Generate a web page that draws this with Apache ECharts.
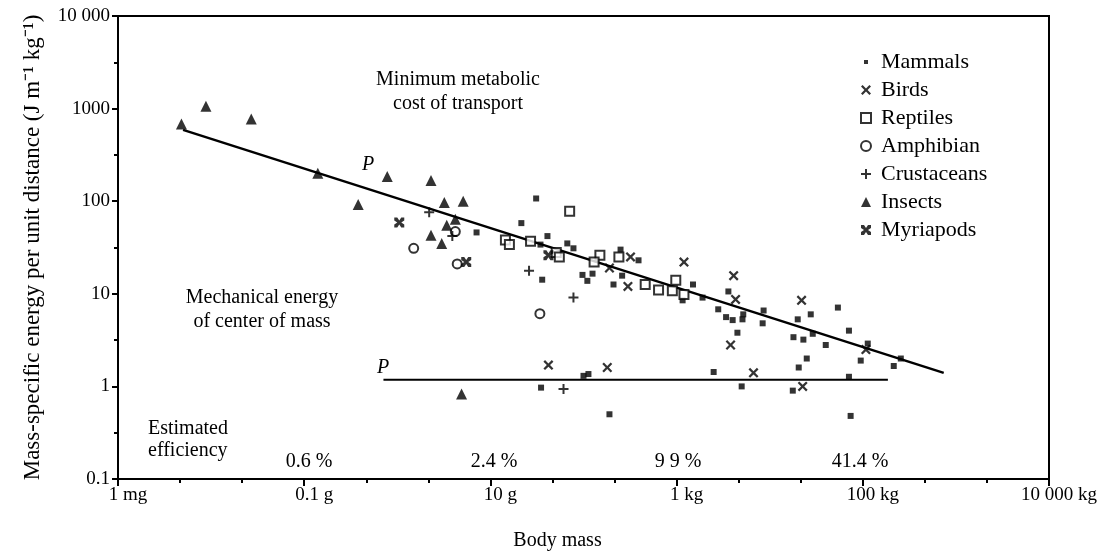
<!DOCTYPE html>
<html>
<head>
<meta charset="utf-8">
<script src="https://cdn.jsdelivr.net/npm/echarts@6/dist/echarts.min.js"></script>
<style>
html, body { margin: 0; padding: 0; background: #fff; }
#chart { width: 1108px; height: 556px; }
</style>
</head>
<body>
<div id="chart"></div>
<script>
// body mass in kg, energy in J m-1 kg-1
var mammals = [[0.0071,46],[0.0215,58],[0.031,107],[0.041,42],[0.0345,34],[0.036,14.2],[0.067,35],[0.078,31],
    [0.0975,16],[0.11,13.8],[0.125,16.5],[0.21,12.6],[0.25,30],[0.39,23],[0.26,15.7],[1.5,12.6],[1.16,8.5],
    [1.9,9.1],[3.6,10.6],[2.8,6.8],[3.4,5.6],[4.0,5.2],[5.1,5.3],[4.5,3.8],[8.6,6.6],[8.4,4.8],[18,3.4],
    [23,3.2],[27.6,6.0],[20,5.3],[54,7.1],[71,4.0],[40,2.8],[25,2.0],[20.5,1.6],[95,1.9],[113,2.9],
    [215,1.66],[256,2.0],[71,1.27],[17.7,0.9],[74,0.48],[2.5,1.43],[5.0,1.0],[0.19,0.5],[0.113,1.36],
    [0.035,0.97],[0.1,1.3],[29,3.7],[5.2,6.0]];
var birds = [[0.042,1.7],[0.18,1.6],[0.19,19],[0.32,25],[0.30,12],[1.2,22],[4.1,15.7],[4.3,8.7],
    [3.8,2.8],[6.7,1.4],[22,8.5],[22.6,1.0],[108,2.5]];
var reptiles = [[0.071,78],[0.0145,38],[0.016,34],[0.027,37],[0.051,28],[0.055,25],[0.15,26],[0.13,22],
    [0.24,25],[0.46,12.6],[0.64,11],[0.98,14],[0.9,10.8],[1.2,9.8]];
var amphibians = [[0.0015,31],[0.0042,47],[0.0044,21],[0.034,6.1]];
var crustaceans = [[0.0022,76],[0.0039,42],[0.026,17.7],[0.078,9.1],[0.061,0.94]];
var insects = [[4.8e-6,680],[8.8e-6,1060],[2.7e-5,770],[1.4e-4,200],[3.8e-4,92],[7.8e-4,185],[0.0023,167],
    [0.0032,97],[0.0051,100],[0.0042,64],[0.0034,55],[0.0023,43],[0.0030,35],[0.0049,0.83]];
var myriapods = [[0.00105,59],[0.0055,22],[0.042,26]];

// the two lines marked P
var metabolicLine = [[5.0e-6,590],[740,1.4]];
var mechanicalLine = [[7.1e-4,1.18],[186,1.18]];

var xTickPowers = [-6,-4,-2,0,2,4];
var xTickLabels = ['1 mg','0.1 g','10 g','1 kg','100 kg','10 000 kg'];
var yTickPowers = [-1,0,1,2,3,4];
var yTickLabels = ['0.1','1','10','100','1000','10 000'];

var efficiencyLabels = ['0.6 %','2.4 %','9 9 %','41.4 %'];

var serif = '"Liberation Serif", "Times New Roman", serif';

var crossPath = 'path://M0,1.6L1.6,0L5,3.4L8.4,0L10,1.6L6.6,5L10,8.4L8.4,10L5,6.6L1.6,10L0,8.4L3.4,5Z';
var plusPath = 'path://M4,0L6,0L6,4L10,4L10,6L6,6L6,10L4,10L4,6L0,6L0,4L4,4Z';
var myriaPath = 'path://M0,0L3,0L5,3L7,0L10,0L10,3L7,5L10,7L10,10L7,10L5,7L3,10L0,10L0,7L3,5L0,3Z';
var dotIcon = 'path://M0,0M10,10M3,3L7,3L7,7L3,7Z';

function labelFor(powers, labels) {
    return function (v) {
        var i = powers.indexOf(Math.round(Math.log10(v)));
        return i < 0 ? '' : labels[i];
    };
}

function pts(name, data, symbol, size, style) {
    return {
        name: name, type: 'scatter', data: data, symbol: symbol, symbolSize: size,
        itemStyle: style || {color: '#000'}, z: 3
    };
}

// hidden axes that only draw the small ticks (minorTick is off on log axes)
function minorAxis(isX, interval) {
    var a = {
        type: 'log', logBase: 10, interval: interval,
        axisLine: {show: false}, axisLabel: {show: false}, splitLine: {show: false},
        axisTick: {length: 4, lineStyle: {color: '#000', width: 2}}
    };
    if (isX) { a.min = 1e-6; a.max = 1e4; a.position = 'bottom'; }
    else { a.min = 0.1; a.max = 10000; a.position = 'left'; }
    return a;
}

var myChart = echarts.init(document.getElementById('chart'));

var effX = [309, 494, 678, 860];

option = {
    animation: false,
    backgroundColor: '#fff',
    grid: {left: 118, right: 59, top: 16, bottom: 73, show: true, borderColor: '#000', borderWidth: 2},
    xAxis: [{
        type: 'log', logBase: 10, min: 1e-6, max: 1e4, interval: 2,
        name: 'Body mass', nameLocation: 'middle', nameGap: 52,
        nameTextStyle: {fontFamily: serif, fontSize: 20, color: '#000', padding: [0, 52, 0, 0]},
        axisLine: {lineStyle: {color: '#000', width: 2}},
        axisTick: {length: 7, lineStyle: {color: '#000', width: 2}},
        splitLine: {show: false},
        axisLabel: {fontFamily: serif, fontSize: 19, color: '#000', margin: 7, padding: [0, 0, 0, 20],
            formatter: labelFor(xTickPowers, xTickLabels)}
    }, minorAxis(true, 2 / 3)],
    yAxis: [{
        type: 'log', logBase: 10, min: 0.1, max: 10000, interval: 1,
        name: 'Mass-specific energy per unit distance (J m\u207B\u00B9 kg\u207B\u00B9)',
        nameLocation: 'middle', nameGap: 74,
        nameTextStyle: {fontFamily: serif, fontSize: 23, color: '#000'},
        axisLine: {lineStyle: {color: '#000', width: 2}},
        axisTick: {length: 6, lineStyle: {color: '#000', width: 2}},
        splitLine: {show: false},
        axisLabel: {fontFamily: serif, fontSize: 19, color: '#000', margin: 8,
            formatter: labelFor(yTickPowers, yTickLabels)}
    }, minorAxis(false, 0.5)],
    legend: {
        orient: 'vertical', left: 855, top: 46,
        itemWidth: 10, itemHeight: 10, itemGap: 6,
        textStyle: {fontFamily: serif, fontSize: 22, lineHeight: 21, color: '#000', padding: [0, 0, 0, 5]},
        selectedMode: false,
        data: [
            {name: 'Mammals', icon: dotIcon},
            'Birds', 'Reptiles', 'Amphibian', 'Crustaceans', 'Insects', 'Myriapods'
        ]
    },
    series: [
        {type: 'line', data: metabolicLine, symbol: 'none', silent: true, z: 2,
            lineStyle: {color: '#000', width: 2.5}},
        {type: 'line', data: mechanicalLine, symbol: 'none', silent: true, z: 2,
            lineStyle: {color: '#000', width: 1.8}},
        pts('Mammals', mammals, 'rect', 6),
        pts('Birds', birds, crossPath, 10),
        pts('Reptiles', reptiles, 'rect', 9, {color: '#fff', borderColor: '#000', borderWidth: 2}),
        pts('Amphibian', amphibians, 'circle', 9, {color: '#fff', borderColor: '#000', borderWidth: 2}),
        pts('Crustaceans', crustaceans, plusPath, 10),
        pts('Insects', insects, 'triangle', 11),
        pts('Myriapods', myriapods, myriaPath, 10)
    ],
    graphic: [
        {type: 'text', x: 458, y: 92, style: {text: 'Minimum metabolic\ncost of transport', fontFamily: serif,
            fontSize: 20, lineHeight: 24, fill: '#000', textAlign: 'center', textVerticalAlign: 'middle'}},
        {type: 'text', x: 262, y: 310, style: {text: 'Mechanical energy\nof center of mass', fontFamily: serif,
            fontSize: 20, lineHeight: 24, fill: '#000', textAlign: 'center', textVerticalAlign: 'middle'}},
        {type: 'text', x: 148, y: 440, style: {text: 'Estimated\nefficiency', fontFamily: serif,
            fontSize: 20, lineHeight: 22, fill: '#000', textAlign: 'left', textVerticalAlign: 'middle'}},
        {type: 'text', x: 368, y: 165, style: {text: 'P', fontFamily: serif, fontStyle: 'italic',
            fontSize: 20, fill: '#000', textAlign: 'center', textVerticalAlign: 'middle'}},
        {type: 'text', x: 383, y: 368, style: {text: 'P', fontFamily: serif, fontStyle: 'italic',
            fontSize: 20, fill: '#000', textAlign: 'center', textVerticalAlign: 'middle'}}
    ].concat(efficiencyLabels.map(function (t, i) {
        return {type: 'text', x: effX[i], y: 462, style: {text: t, fontFamily: serif, fontSize: 20,
            fill: '#000', textAlign: 'center', textVerticalAlign: 'middle'}};
    }))
};

myChart.setOption(option);
</script>
</body>
</html>
